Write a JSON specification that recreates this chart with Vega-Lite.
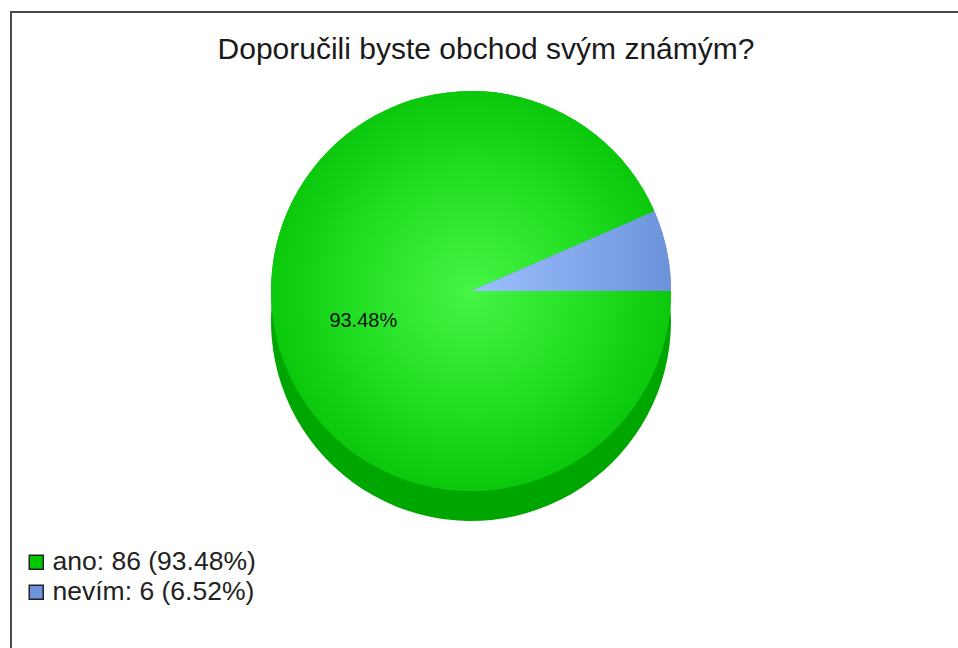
{
  "$schema": "https://vega.github.io/schema/vega-lite/v6.json",
  "width": 960,
  "height": 650,
  "autosize": {"type": "none"},
  "padding": {"left": 11, "top": 12, "right": 0, "bottom": 0},
  "background": "#ffffff",
  "view": {"stroke": "#4a4a4a", "strokeWidth": 2, "fill": "#ffffff"},
  "title": {
    "text": "Doporučili byste obchod svým známým?",
    "fontSize": 30,
    "fontWeight": "normal",
    "font": "Liberation Sans",
    "color": "#1a1a1a",
    "anchor": "middle",
    "frame": "group",
    "orient": "top",
    "baseline": "alphabetic",
    "offset": 0,
    "dx": -5,
    "dy": 77
  },
  "data": {
    "values": [
      {"odpoved": "ano", "pocet": 86, "procento": "93.48%", "popis": "ano: 86 (93.48%)", "poradi": 1},
      {"odpoved": "nevím", "pocet": 6, "procento": "6.52%", "popis": "nevím: 6 (6.52%)", "poradi": 2}
    ]
  },
  "encoding": {
    "theta": {"field": "pocet", "type": "quantitative", "stack": true, "scale": {"range": [1.5708, 7.854]}},
    "order": {"field": "poradi", "type": "quantitative"}
  },
  "layer": [
    {
      "mark": {"type": "arc", "radius": 200, "color": "#00a600", "xOffset": -20, "yOffset": -16}
    },
    {
      "mark": {"type": "arc", "radius": 200, "xOffset": -20, "yOffset": -46},
      "encoding": {
        "color": {
          "field": "popis",
          "type": "nominal",
          "scale": {"domain": ["ano: 86 (93.48%)", "nevím: 6 (6.52%)"], "range": ["#00c800", "#6d94dc"]},
          "legend": {
            "title": null,
            "orient": "none",
            "legendX": 12,
            "legendY": 537,
            "symbolType": "square",
            "symbolSize": 196,
            "symbolStrokeColor": "#222222",
            "symbolStrokeWidth": 1.5,
            "labelFont": "Liberation Sans",
            "labelFontSize": 26.5,
            "labelColor": "#222222",
            "labelLimit": 500,
            "labelOffset": 3,
            "rowPadding": 3,
            "padding": 0
          }
        }
      }
    },
    {
      "mark": {"type": "arc", "radius": 200, "xOffset": -20, "yOffset": -46},
      "encoding": {
        "fill": {
          "condition": {
            "test": "datum.odpoved === 'ano'",
            "value": {"gradient": "radial", "x1": 0.5, "y1": 0.5, "r1": 0, "x2": 0.5, "y2": 0.5, "r2": 0.5,
              "stops": [{"offset": 0, "color": "#46f546"}, {"offset": 0.6, "color": "#22de22"}, {"offset": 1, "color": "#0cc80c"}]}
          },
          "value": {"gradient": "linear", "x1": 0, "y1": 0.5, "x2": 1, "y2": 0.5,
            "stops": [{"offset": 0, "color": "#9dc0ff"}, {"offset": 1, "color": "#6c93da"}]}
        }
      }
    },
    {
      "mark": {"type": "text", "radius": 110, "xOffset": -20, "yOffset": -38, "font": "Liberation Sans", "fontSize": 20, "color": "#111111", "align": "center", "baseline": "middle"},
      "encoding": {
        "text": {"condition": {"test": "datum.odpoved === 'ano'", "field": "procento"}, "value": ""}
      }
    }
  ],
  "config": {
    "view": {"stroke": "#4a4a4a", "strokeWidth": 2}
  }
}
